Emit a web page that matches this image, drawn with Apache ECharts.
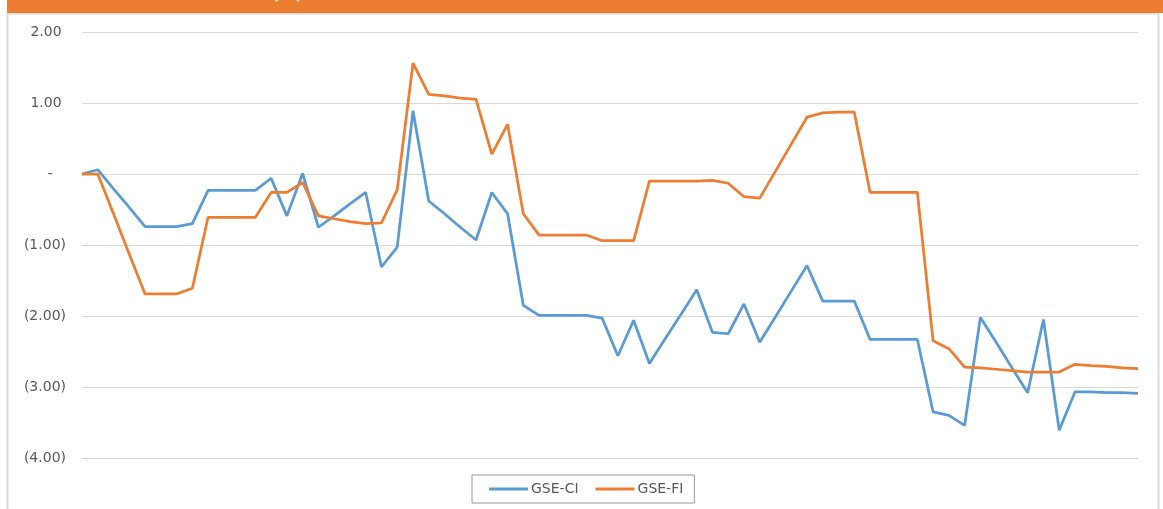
<!DOCTYPE html>
<html>
<head>
<meta charset="utf-8">
<title>GSE-CI vs GSE-FI</title>
<script src="https://cdn.jsdelivr.net/npm/echarts@6/dist/echarts.min.js"></script>
<style>
  html, body { margin: 0; padding: 0; background: #fff; }
  #chart { width: 1163px; height: 509px; }
</style>
</head>
<body>
<div id="chart"></div>
<script>
// series values (68 periods)
const gseCI = [
  0, 0.06, -0.21, -0.47, -0.74, -0.74, -0.74, -0.70, -0.23, -0.23,
  -0.23, -0.23, -0.06, -0.59, 0.01, -0.75, -0.59, -0.42, -0.26, -1.31,
  -1.03, 0.89, -0.38, -0.56, -0.75, -0.93, -0.26, -0.56, -1.85, -1.99,
  -1.99, -1.99, -1.99, -2.03, -2.56, -2.06, -2.67, -2.32, -1.98, -1.63,
  -2.23, -2.25, -1.83, -2.37, -2.01, -1.65, -1.29, -1.79, -1.79, -1.79,
  -2.33, -2.33, -2.33, -2.33, -3.35, -3.40, -3.54, -2.02, -2.37, -2.73,
  -3.08, -2.05, -3.61, -3.07, -3.07, -3.08, -3.08, -3.09
]
const gseFI = [
  0, 0, -0.56, -1.13, -1.69, -1.69, -1.69, -1.61, -0.61, -0.61,
  -0.61, -0.61, -0.26, -0.26, -0.12, -0.59, -0.63, -0.67, -0.70, -0.69,
  -0.22, 1.56, 1.12, 1.10, 1.07, 1.05, 0.28, 0.70, -0.56, -0.86,
  -0.86, -0.86, -0.86, -0.94, -0.94, -0.94, -0.10, -0.10, -0.10, -0.10,
  -0.09, -0.13, -0.32, -0.34, 0.04, 0.42, 0.80, 0.86, 0.87, 0.87,
  -0.26, -0.26, -0.26, -0.26, -2.35, -2.46, -2.72, -2.73, -2.75, -2.77,
  -2.79, -2.79, -2.79, -2.68, -2.70, -2.71, -2.73, -2.74
]
const categories = gseCI.map((_, i) => String(i + 1))
const seriesNames = ['GSE-CI', 'GSE-FI']
const yTicks = [-4, -3, -2, -1, 0, 1, 2]

// colours (Office palette)
const colors = ['#5B9BD5', '#ED7D31']

// accounting style labels: 2.00 / - / (1.00)
const fmt = (v) => {
  if (v === 0) return '-   '
  if (v < 0) return '(' + Math.abs(v).toFixed(2) + ')'
  return v.toFixed(2) + ' '
}

const chart = echarts.init(document.getElementById('chart'))

chart.setOption({
  animation: false,
  color: colors,
  textStyle: { fontFamily: 'DejaVu Sans' },
  graphic: [
    // frame of the panel
    {
      type: 'rect',
      shape: { x: 7.5, y: 13.5, width: 1151, height: 510 },
      style: { fill: 'none', stroke: '#D9D9D9', lineWidth: 2 },
      silent: true
    },
    // orange header band
    {
      type: 'rect',
      shape: { x: 7, y: 0, width: 1156, height: 13 },
      style: { fill: '#ED7D31' },
      silent: true
    },
    {
      type: 'text',
      left: 272,
      top: -13,
      style: { text: '(%)', fill: '#fff', font: 'bold 16px DejaVu Sans' },
      silent: true
    }
  ],
  legend: {
    data: seriesNames,
    left: 472,
    top: 475,
    icon: 'rect',
    itemWidth: 39,
    itemHeight: 3,
    itemGap: 17,
    padding: [7, 11, 7, 17],
    borderColor: '#999999',
    borderWidth: 1,
    textStyle: { color: '#595959', fontSize: 14, padding: [0, 0, 0, -2] }
  },
  grid: {
    left: 82,
    right: 25,
    top: 32,
    bottom: 51,
    containLabel: false
  },
  xAxis: {
    type: 'category',
    data: categories,
    boundaryGap: false,
    axisLine: { show: false },
    axisTick: { show: false },
    axisLabel: { show: false },
    splitLine: { show: false }
  },
  yAxis: {
    type: 'value',
    min: yTicks[0],
    max: yTicks[yTicks.length - 1],
    interval: 1,
    axisLine: { show: false },
    axisTick: { show: false },
    axisLabel: {
      color: '#595959',
      fontSize: 14,
      margin: 16,
      formatter: fmt
    },
    splitLine: {
      lineStyle: { color: '#D9D9D9', width: 1 }
    }
  },
  series: [
    {
      name: seriesNames[0],
      type: 'line',
      data: gseCI,
      symbol: 'none',
      lineStyle: { width: 2.75, color: colors[0] },
      itemStyle: { color: colors[0] }
    },
    {
      name: seriesNames[1],
      type: 'line',
      data: gseFI,
      symbol: 'none',
      lineStyle: { width: 2.75, color: colors[1] },
      itemStyle: { color: colors[1] }
    }
  ]
})
</script>
</body>
</html>
